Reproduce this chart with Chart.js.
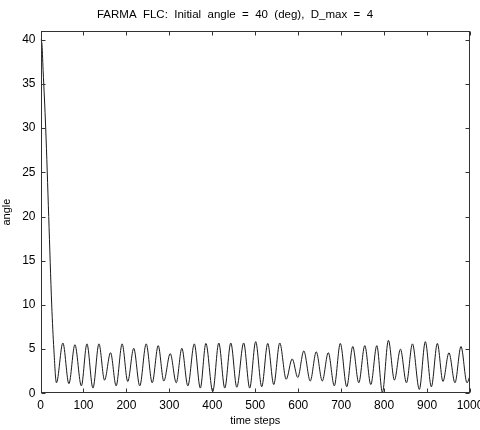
<!DOCTYPE html>
<html>
<head>
<meta charset="utf-8">
<script src="https://cdn.jsdelivr.net/npm/chart.js@4.4.1/dist/chart.umd.min.js"></script>
<style>
body { margin: 0; background: #fff; }
#wrap { width: 480px; height: 430px; }
</style>
</head>
<body>
<div id="wrap"><canvas id="canvas"></canvas></div>
<script>
// turning points (time step, angle in deg)
let steps = [0, 3, 6, 12, 19, 26, 31, 37,
  52, 66, 80, 95, 108, 122, 136, 149, 163, 176, 190, 203, 217, 231, 246, 260, 274, 287,
  302, 316, 329, 343, 358, 372, 385, 401, 415, 429, 443, 457, 473, 487, 501, 515, 529, 543,
  557, 572, 586, 599, 613, 628, 642, 656, 670, 684, 698, 713, 727, 741, 755, 769, 783, 796,
  810, 824, 838, 852, 866, 882, 896, 910, 924, 937, 951, 965, 979, 993, 1000];
let angle = [40, 39.6, 36.5, 30, 20, 10, 5, 1.2,
  5.7, 1.1, 5.5, 0.85, 5.6, 0.6, 5.6, 1.5, 4.6, 0.85, 5.6, 1.35, 5.1, 0.85, 5.6, 1.2, 5.4, 1.4,
  4.5, 1.2, 5.1, 0.85, 5.6, 0.6, 5.65, 0.2, 5.7, 0.6, 5.7, 0.7, 5.7, 0.6, 5.85, 0.75, 5.65, 1.0,
  5.7, 1.6, 3.9, 1.8, 4.8, 1.4, 4.7, 1.4, 4.6, 0.85, 5.65, 0.75, 5.3, 1.2, 5.4, 1.0, 5.4, 0.1,
  6.0, 1.5, 5.0, 1.2, 5.6, 0.45, 5.85, 0.75, 5.65, 1.35, 4.6, 1.2, 5.3, 1.2, 2.0];
let xTicks = [0, 100, 200, 300, 400, 500, 600, 700, 800, 900, 1000];
let yTicks = [0, 5, 10, 15, 20, 25, 30, 35, 40];
let titleText = 'FARMA  FLC:  Initial  angle  =  40  (deg),  D_max  =  4';

let font = "'Liberation Sans Narrow', 'Liberation Sans', Arial, sans-serif";

// MATLAB style box with inward ticks on all four sides
let boxTicks = {
  id: 'boxTicks',
  afterDraw(chart) {
    let ctx = chart.ctx;
    let a = chart.chartArea;
    let xs = chart.scales.x, ys = chart.scales.y;
    let L = Math.round(a.left) + 0.5, R = Math.round(a.right) - 0.5;
    let T = Math.round(a.top) + 0.5, B = Math.round(a.bottom) - 0.5;
    ctx.save();
    ctx.strokeStyle = '#333';
    ctx.lineWidth = 1;
    ctx.strokeRect(L, T, R - L, B - T);
    ctx.beginPath();
    xTicks.forEach(v => {
      let px = Math.round(xs.getPixelForValue(v)) + 0.5;
      ctx.moveTo(px, B); ctx.lineTo(px, B - 4);
      ctx.moveTo(px, T); ctx.lineTo(px, T + 4);
    });
    yTicks.forEach(v => {
      let py = Math.round(ys.getPixelForValue(v)) + 0.5;
      ctx.moveTo(L, py); ctx.lineTo(L + 4, py);
      ctx.moveTo(R, py); ctx.lineTo(R - 4, py);
    });
    ctx.stroke();
    ctx.restore();
  }
};

let canvas = document.getElementById('canvas');
let myChart = new Chart(canvas, {
  type: 'line',
  data: {
    datasets: [{
      data: steps.map((s, i) => ({ x: s, y: angle[i] })),
      borderColor: '#1a1a1a',
      borderWidth: 1,
      pointRadius: 0,
      fill: false,
      cubicInterpolationMode: 'monotone'
    }]
  },
  options: {
    responsive: true,
    maintainAspectRatio: false,
    animation: false,
    layout: { padding: { left: 0, right: 10, top: 0, bottom: 2 } },
    plugins: {
      legend: { display: false },
      tooltip: { enabled: false },
      title: {
        display: true,
        text: titleText,
        color: '#000',
        font: { family: font, size: 11.5, weight: 'normal' },
        padding: { top: 8, bottom: 9 }
      }
    },
    scales: {
      x: {
        type: 'linear',
        min: 0,
        max: 1000,
        afterBuildTicks: s => { s.ticks = xTicks.map(v => ({ value: v })); },
        afterFit: s => { s.paddingLeft = 0; s.paddingRight = 0; },
        grid: { display: false, drawTicks: false },
        border: { display: false },
        ticks: { color: '#000', font: { family: font, size: 12 }, padding: 5, maxRotation: 0, autoSkip: false,
          callback: v => String(v) },
        title: { display: true, text: 'time steps', color: '#000', font: { family: font, size: 11 }, padding: { top: -3, bottom: 0 } }
      },
      y: {
        type: 'linear',
        min: 0,
        max: 41,
        afterBuildTicks: s => { s.ticks = yTicks.map(v => ({ value: v })); },
        grid: { display: false, drawTicks: false },
        border: { display: false },
        ticks: { color: '#000', font: { family: font, size: 12 }, padding: 5, autoSkip: false,
          callback: v => String(v) },
        title: { display: true, text: 'angle', color: '#000', font: { family: font, size: 11 }, padding: { top: 0, bottom: 4 } }
      }
    }
  },
  plugins: [boxTicks]
});
</script>
</body>
</html>
